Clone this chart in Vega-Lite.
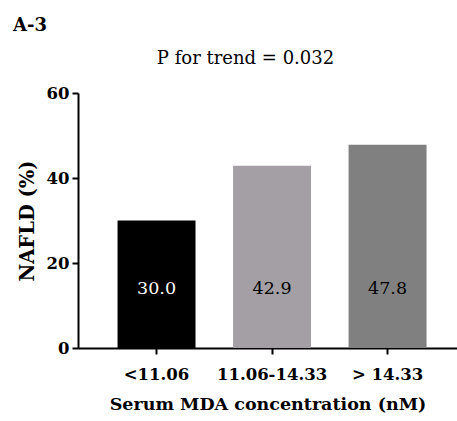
{
  "$schema": "https://vega.github.io/schema/vega-lite/v6.json",
  "width": 379,
  "height": 255,
  "autosize": {"type": "none"},
  "padding": {"left": 78, "top": 93, "right": 0, "bottom": 73},
  "background": "white",
  "title": {"text": "A-3", "anchor": "start", "frame": "group", "dx": -65, "font": "DejaVu Serif", "fontSize": 18, "fontWeight": "bold", "color": "black", "baseline": "alphabetic", "offset": 0},
  "data": {"values": [
    {"group": "<11.06", "pct": 30.0},
    {"group": "11.06-14.33", "pct": 42.9},
    {"group": "> 14.33", "pct": 47.8}
  ]},
  "layer": [
    {
      "mark": {"type": "bar"},
      "encoding": {
        "x": {"field": "group", "type": "nominal", "sort": null,
          "scale": {"paddingInner": 0.325, "paddingOuter": 0.303, "align": 0.565},
          "axis": {"orient": "bottom", "title": "Serum MDA concentration (nM)", "labelAngle": 0, "labelFont": "DejaVu Serif", "labelFontSize": 16.5, "labelFontWeight": "bold", "labelPadding": 12, "tickSize": 6, "tickWidth": 2, "domainWidth": 2, "titleFont": "DejaVu Serif", "titleFontSize": 17.5, "titleFontWeight": "bold", "titlePadding": 13}
        },
        "y": {"field": "pct", "type": "quantitative", "scale": {"domain": [0, 60]},
          "axis": {"values": [0, 20, 40, 60], "title": "NAFLD (%)", "tickSize": 6, "tickWidth": 2, "domainWidth": 2, "labelPadding": 3, "labelFont": "DejaVu Serif", "labelFontSize": 16.5, "labelFontWeight": "bold", "titleFont": "DejaVu Serif", "titleFontSize": 19.5, "titleFontWeight": "bold", "titlePadding": 9}
        },
        "color": {"field": "group", "type": "nominal", "sort": null,
          "scale": {"domain": ["<11.06", "11.06-14.33", "> 14.33"], "range": ["#000000", "#a39fa4", "#808080"]},
          "legend": null}
      }
    },
    {
      "mark": {"type": "text", "font": "DejaVu Serif", "fontSize": 17.5, "baseline": "middle", "align": "center"},
      "encoding": {
        "x": {"field": "group", "type": "nominal", "sort": null,
          "axis": {"orient": "top", "labels": false, "ticks": false, "domain": false, "title": "P for trend = 0.032", "titleFont": "DejaVu Serif", "titleFontSize": 18, "titleFontWeight": "normal", "titleX": 167, "titleY": -30, "titleBaseline": "alphabetic", "titleAlign": "center"}
        },
        "y": {"datum": 14},
        "text": {"field": "pct", "type": "quantitative", "format": ".1f"},
        "color": {"condition": {"test": "datum.pct < 35", "value": "white"}, "value": "black"}
      }
    }
  ],
  "resolve": {"axis": {"x": "independent"}},
  "config": {
    "view": {"stroke": null},
    "axis": {"grid": false, "domainColor": "black", "tickColor": "black", "labelColor": "black", "titleColor": "black"}
  }
}
